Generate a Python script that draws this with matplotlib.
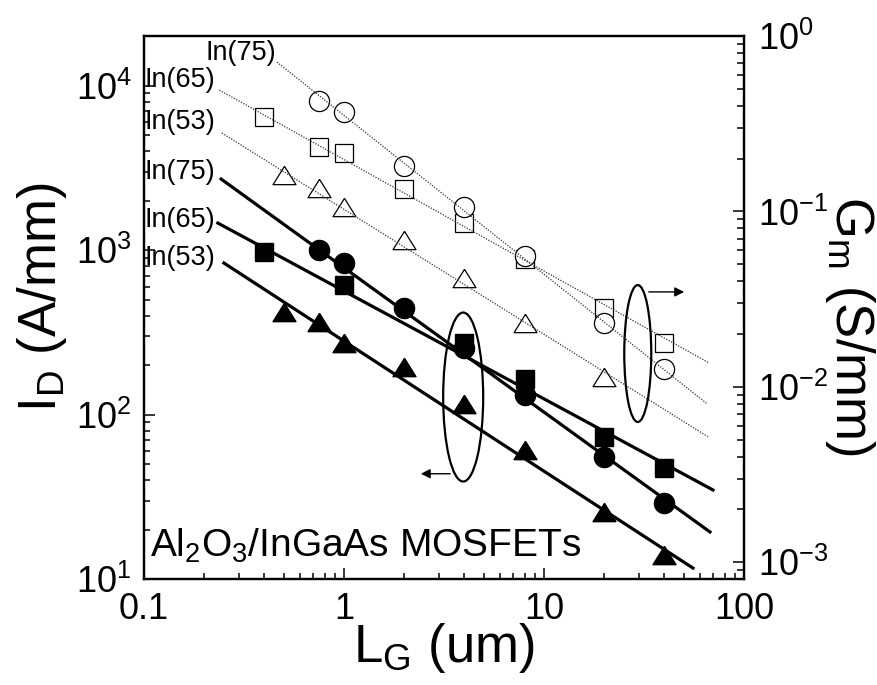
import numpy as np
import matplotlib
matplotlib.use('Agg')
import matplotlib.pyplot as plt
from matplotlib.patches import Ellipse
from matplotlib import ticker

plt.rcParams['font.family'] = ['Liberation Sans', 'DejaVu Sans']
plt.rcParams['mathtext.fontset'] = 'custom'
plt.rcParams['mathtext.rm'] = 'Liberation Sans'
plt.rcParams['mathtext.it'] = 'Liberation Sans:italic'
plt.rcParams['mathtext.default'] = 'regular'
plt.rcParams['axes.unicode_minus'] = False

#%% data
# drain current I_D (A/mm), filled symbols, left axis
lg_id75 = [0.75, 1, 2, 4, 8, 20, 40]
id75 = [1000, 834, 444, 254, 132, 55.4, 29.1]
lg_id65 = [0.4, 1, 4, 8, 20, 40]
id65 = [973, 614, 273, 165, 73.3, 47.5]
lg_id53 = [0.5, 0.75, 1, 2, 4, 8, 20, 40]
id53 = [421, 365, 273, 195, 116, 61, 25.6, 14.0]

# transconductance G_m (S/mm), open symbols, right axis
lg_gm75 = [0.75, 1, 2, 4, 8, 20, 40]
gm75 = [0.426, 0.369, 0.181, 0.106, 0.0558, 0.0232, 0.0127]
lg_gm65 = [0.4, 0.75, 1, 2, 4, 8, 20, 40]
gm65 = [0.345, 0.233, 0.215, 0.135, 0.086, 0.0533, 0.0282, 0.0178]
lg_gm53 = [0.5, 0.75, 1, 2, 4, 8, 20]
gm53 = [0.161, 0.136, 0.106, 0.0684, 0.0418, 0.0232, 0.0114]

# guide lines (end points)
fit_id75_x, fit_id75_y = [0.243, 67.6], [2704, 19.4]
fit_id65_x, fit_id65_y = [0.234, 70.0], [1461, 34.9]
fit_id53_x, fit_id53_y = [0.251, 55.6], [835, 11.7]
fit_gm75_x, fit_gm75_y = [0.462, 65.3], [0.710, 0.00802]
fit_gm65_x, fit_gm65_y = [0.238, 66.8], [0.492, 0.0137]
fit_gm53_x, fit_gm53_y = [0.245, 66.0], [0.280, 0.0052]

x_ticks = [0.1, 1, 10, 100]

#%% plot
fig = plt.figure(figsize=(8.77, 6.85), dpi=100)
ax = fig.add_axes([0.1642, 0.1543, 0.6841, 0.7931])
ax2 = ax.twinx()

# slightly flat triangle, closed
tri = [(0, 0.8), (-1, -0.8), (1, -0.8), (0, 0.8)]

# I_D
for fx, fy in [(fit_id75_x, fit_id75_y), (fit_id65_x, fit_id65_y), (fit_id53_x, fit_id53_y)]:
    ax.plot(fx, fy, color='black', lw=2.3, zorder=2)
ax.plot(lg_id65, id65, 's', color='black', ms=12.5, zorder=3)
ax.plot(lg_id75, id75, 'o', color='black', ms=14.5, zorder=3)
ax.plot(lg_id53, id53, marker=tri, ls='none', color='black', ms=16.5, zorder=3)

# G_m
ax2.plot(lg_gm65, gm65, 's', mfc='white', mec='black', mew=0.9, ms=12.5, zorder=2)
ax2.plot(lg_gm75, gm75, 'o', mfc='white', mec='black', mew=0.9, ms=14.5, zorder=2)
ax2.plot(lg_gm53, gm53, marker=tri, ls='none', mfc='white', mec='black', mew=0.9, ms=16.5, zorder=2)
for fx, fy in [(fit_gm75_x, fit_gm75_y), (fit_gm65_x, fit_gm65_y), (fit_gm53_x, fit_gm53_y)]:
    ax2.plot(fx, fy, color='0.2', lw=0.9, ls=(0, (1, 1.2)), zorder=3)

# scales
ax.set_xscale('log')
ax.set_yscale('log')
ax2.set_yscale('log')
ax.set_xlim(0.1, 100)
ax.set_ylim(10, 2e4)
ax2.set_ylim(8e-4, 1)

ax.xaxis.set_major_locator(ticker.FixedLocator(x_ticks))
ax.xaxis.set_major_formatter(ticker.FuncFormatter(lambda v, p: '{:g}'.format(v)))
for a in (ax.xaxis, ax.yaxis, ax2.yaxis):
    a.set_minor_locator(ticker.LogLocator(base=10, subs=np.arange(2, 10), numticks=20))
    a.set_minor_formatter(ticker.NullFormatter())
ax.yaxis.set_major_locator(ticker.LogLocator(base=10, numticks=10))
ax2.yaxis.set_major_locator(ticker.LogLocator(base=10, numticks=10))

ax.tick_params(which='both', direction='in', top=False, right=False, width=1.1, labelsize=26)
ax.tick_params(which='major', length=8)
ax.tick_params(which='minor', length=4.5)
ax.tick_params(axis='x', pad=9)
ax.tick_params(axis='y', pad=9)
ax2.tick_params(which='both', direction='in', left=False, right=True, width=1.1, labelsize=26, pad=10)
ax2.tick_params(which='major', length=8)
ax2.tick_params(which='minor', length=5)
for a in (ax, ax2):
    for s in a.spines.values():
        s.set_linewidth(1.6)

ax.set_xlabel('L$_G$ (um)', fontsize=38, labelpad=-4)
ax.set_ylabel('I$_D$ (A/mm)', fontsize=38)
ax.yaxis.set_label_coords(-0.125, 0.52)
ax2.set_ylabel('G$_m$ (S/mm)', fontsize=38, rotation=270, va='bottom')
ax2.yaxis.set_label_coords(1.132, 0.466)

# series labels
for y, s in [(0.7496, 'In(75)'), (0.6612, 'In(65)'), (0.5913, 'In(53)'),
             (0.919, 'In(65)'), (0.8415, 'In(53)')]:
    ax.text(0.0, y, s, transform=ax.transAxes, fontsize=19.5, ha='left', va='center')
ax.text(0.103, 0.9687, 'In(75)', transform=ax.transAxes, fontsize=19.5, ha='left', va='center')

ax.text(0.01, 0.041, 'Al$_2$O$_3$/InGaAs MOSFETs', transform=ax.transAxes,
        fontsize=28, ha='left', va='baseline')

# ellipses and arrows
ax2.add_patch(Ellipse((0.532, 0.3355), 0.0667, 0.311, transform=ax.transAxes,
                      fill=False, lw=1.6, ec='black', zorder=4))
ax2.add_patch(Ellipse((0.823, 0.4156), 0.045, 0.252, transform=ax.transAxes,
                      fill=False, lw=1.6, ec='black', zorder=4))
ax2.annotate('', xy=(0.4567, 0.1943), xytext=(0.515, 0.1943), xycoords='axes fraction',
             arrowprops=dict(arrowstyle='-|>', color='black', lw=1.0, mutation_scale=14))
ax2.annotate('', xy=(0.905, 0.529), xytext=(0.8367, 0.529), xycoords='axes fraction',
             arrowprops=dict(arrowstyle='-|>', color='black', lw=1.0, mutation_scale=14))

plt.savefig('out.png', dpi=100)
